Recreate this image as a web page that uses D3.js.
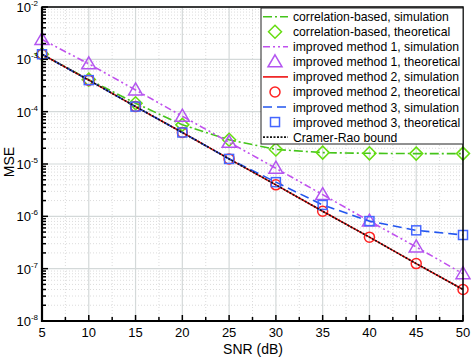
<!DOCTYPE html>
<html>
<head>
<meta charset="utf-8">
<script src="https://cdn.jsdelivr.net/npm/d3@7"></script>
<style>
  body { margin: 0; background: #fff; }
  text { font-family: "Liberation Sans", Arial, sans-serif; }
</style>
</head>
<body>
<div id="chart"></div>
<script>
// data
let snr = [5, 10, 15, 20, 25, 30, 35, 40, 45, 50]
let corrSim = [1.25e-3, 4.1e-4, 1.45e-4, 5.6e-5, 2.9e-5, 1.9e-5, 1.65e-5, 1.6e-5, 1.58e-5, 1.58e-5]
let corrTheo = [1.25e-3, 4.1e-4, 1.45e-4, 5.6e-5, 2.9e-5, 1.9e-5, 1.65e-5, 1.6e-5, 1.58e-5, 1.58e-5]
let imp1Sim = [2.4e-3, 8.2e-4, 2.6e-4, 8.2e-5, 2.6e-5, 8.3e-6, 2.6e-6, 8.1e-7, 2.6e-7, 8e-8]
let imp1Theo = [2.4e-3, 8.2e-4, 2.6e-4, 8.2e-5, 2.6e-5, 8.3e-6, 2.6e-6, 8.1e-7, 2.6e-7, 8e-8]
let imp2Sim = [1.25e-3, 4e-4, 1.25e-4, 4e-5, 1.25e-5, 4e-6, 1.25e-6, 4e-7, 1.25e-7, 4e-8]
let imp2Theo = [1.25e-3, 4e-4, 1.25e-4, 4e-5, 1.25e-5, 4e-6, 1.25e-6, 4e-7, 1.25e-7, 4e-8]
let imp3Sim = [1.25e-3, 4e-4, 1.25e-4, 4e-5, 1.25e-5, 4.5e-6, 1.65e-6, 8.1e-7, 5.4e-7, 4.4e-7]
let imp3Theo = [1.25e-3, 4e-4, 1.25e-4, 4e-5, 1.25e-5, 4.5e-6, 1.65e-6, 8.1e-7, 5.4e-7, 4.4e-7]
let crb = [1.25e-3, 4e-4, 1.25e-4, 4e-5, 1.25e-5, 4e-6, 1.25e-6, 4e-7, 1.25e-7, 4e-8]
let xTicks = [5, 10, 15, 20, 25, 30, 35, 40, 45, 50]
let yExps = [-2, -3, -4, -5, -6, -7, -8]

let width = 471, height = 357
let plot = {left: 42, right: 463, top: 7, bottom: 321}

let svg = d3.select("#chart").append("svg")
    .attr("width", width)
    .attr("height", height)

let x = d3.scaleLinear().domain([5, 50]).range([plot.left, plot.right])
let y = d3.scaleLog().domain([1e-8, 1e-2]).range([plot.bottom, plot.top])

//grid: minor dotted first, then major solid
let minorX = d3.range(5, 50.01, 2.5).filter(v => v % 5 != 0)
let minorY = []
for (let e = -8; e < -2; e++) {
    for (let m = 2; m <= 9; m++) minorY.push(m * Math.pow(10, e))
}
let grid = svg.append("g")
grid.selectAll(".mx").data(minorX).enter().append("line")
    .attr("x1", d => x(d)).attr("x2", d => x(d))
    .attr("y1", plot.top).attr("y2", plot.bottom)
    .attr("stroke", "#dcdcdc").attr("stroke-dasharray", "1,2")
grid.selectAll(".my").data(minorY).enter().append("line")
    .attr("x1", plot.left).attr("x2", plot.right)
    .attr("y1", d => y(d)).attr("y2", d => y(d))
    .attr("stroke", "#dcdcdc").attr("stroke-dasharray", "1,2")
grid.selectAll(".gx").data(xTicks).enter().append("line")
    .attr("x1", d => x(d)).attr("x2", d => x(d))
    .attr("y1", plot.top).attr("y2", plot.bottom)
    .attr("stroke", "#d4d9d9").attr("stroke-width", 1.2)
grid.selectAll(".gy").data(yExps).enter().append("line")
    .attr("x1", plot.left).attr("x2", plot.right)
    .attr("y1", d => y(Math.pow(10, d))).attr("y2", d => y(Math.pow(10, d)))
    .attr("stroke", "#d4d9d9").attr("stroke-width", 1.2)

// series definitions
let series = [
    {name: "correlation-based, simulation", vals: corrSim, color: "#44c41a", dash: "9,3,2,3", width: 1.6},
    {name: "correlation-based, theoretical", vals: corrTheo, color: "#66dd11", marker: "diamond"},
    {name: "improved method 1, simulation", vals: imp1Sim, color: "#c050ee", dash: "7,3,2,3,2,3", width: 1.6},
    {name: "improved method 1, theoretical", vals: imp1Theo, color: "#b355f0", marker: "triangle"},
    {name: "improved method 2, simulation", vals: imp2Sim, color: "#ee1111", dash: null, width: 1.6},
    {name: "improved method 2, theoretical", vals: imp2Theo, color: "#ff2222", marker: "circle"},
    {name: "improved method 3, simulation", vals: imp3Sim, color: "#2255ee", dash: "9,5", width: 1.6},
    {name: "improved method 3, theoretical", vals: imp3Theo, color: "#4466ff", marker: "square"},
    {name: "Cramer-Rao bound", vals: crb, color: "#111111", dash: "2,1.5", width: 1.6}
]

let line = d3.line().x((d, i) => x(snr[i])).y(d => y(d))

function drawMarker(g, type, cx, cy, color) {
    if (type == "diamond") {
        g.append("path").attr("d", `M${cx},${cy - 6.5}L${cx + 6.5},${cy}L${cx},${cy + 6.5}L${cx - 6.5},${cy}Z`)
            .attr("fill", "none").attr("stroke", color).attr("stroke-width", 1.5)
    } else if (type == "triangle") {
        g.append("path").attr("d", `M${cx},${cy - 7}L${cx + 7},${cy + 5}L${cx - 7},${cy + 5}Z`)
            .attr("fill", "none").attr("stroke", color).attr("stroke-width", 1.5)
    } else if (type == "circle") {
        g.append("circle").attr("cx", cx).attr("cy", cy).attr("r", 5)
            .attr("fill", "none").attr("stroke", color).attr("stroke-width", 1.5)
    } else if (type == "square") {
        g.append("rect").attr("x", cx - 4.5).attr("y", cy - 4.5).attr("width", 9).attr("height", 9)
            .attr("fill", "none").attr("stroke", color).attr("stroke-width", 1.5)
    }
}

let marks = svg.append("g")
series.forEach(function(s) {
    if (s.marker) {
        s.vals.forEach((v, i) => drawMarker(marks, s.marker, x(snr[i]), y(v), s.color))
    } else {
        marks.append("path")
            .attr("d", line(s.vals))
            .attr("fill", "none")
            .attr("stroke", s.color)
            .attr("stroke-width", s.width)
            .attr("stroke-dasharray", s.dash)
    }
})

// frame
svg.append("rect")
    .attr("x", plot.left).attr("y", plot.top)
    .attr("width", plot.right - plot.left).attr("height", plot.bottom - plot.top)
    .attr("fill", "none").attr("stroke", "#000").attr("stroke-width", 1.5)
svg.append("line").attr("x1", plot.left).attr("x2", plot.left).attr("y1", plot.top).attr("y2", plot.bottom + 1)
    .attr("stroke", "#000").attr("stroke-width", 2.2)
svg.append("line").attr("x1", plot.left - 1).attr("x2", plot.right).attr("y1", plot.bottom).attr("y2", plot.bottom)
    .attr("stroke", "#000").attr("stroke-width", 2.2)

// ticks (inward)
let ticks = svg.append("g").attr("stroke", "#000").attr("stroke-width", 1.5)
ticks.selectAll(".tx").data(xTicks).enter().append("line")
    .attr("x1", d => x(d)).attr("x2", d => x(d)).attr("y1", plot.bottom).attr("y2", plot.bottom - 6)
ticks.selectAll(".tmx").data(minorX).enter().append("line")
    .attr("x1", d => x(d)).attr("x2", d => x(d)).attr("y1", plot.bottom).attr("y2", plot.bottom - 4)
ticks.selectAll(".ty").data(yExps).enter().append("line")
    .attr("x1", plot.left).attr("x2", plot.left + 6).attr("y1", d => y(Math.pow(10, d))).attr("y2", d => y(Math.pow(10, d)))
ticks.selectAll(".tmy").data(minorY).enter().append("line")
    .attr("x1", plot.left).attr("x2", plot.left + 4).attr("y1", d => y(d)).attr("y2", d => y(d))

// tick labels
svg.append("g").selectAll("text").data(xTicks).enter().append("text")
    .attr("x", d => x(d)).attr("y", plot.bottom + 16)
    .attr("text-anchor", "middle").style("font-size", "13px")
    .text(d => d)

let yl = svg.append("g").selectAll("text").data(yExps).enter().append("text")
    .attr("x", 38).attr("y", d => y(Math.pow(10, d)) + 5)
    .attr("text-anchor", "end").style("font-size", "13px")
yl.append("tspan").text("10")
yl.append("tspan").attr("dy", -6).style("font-size", "8px").text(d => "-" + Math.abs(d))

// axis titles
svg.append("text").attr("x", 253).attr("y", 354)
    .attr("text-anchor", "middle").style("font-size", "14px").text("SNR (dB)")
svg.append("text").attr("transform", `translate(14, 162) rotate(-90)`)
    .attr("text-anchor", "middle").style("font-size", "14px").text("MSE")

// legend
let legend = svg.append("g")
legend.append("rect").attr("x", 261).attr("y", plot.top + 1).attr("width", plot.right - 261).attr("height", 136)
    .attr("fill", "#fff").attr("stroke", "#222").attr("stroke-width", 1)
series.forEach(function(s, i) {
    let ly = 16.7 + i * 15.05
    if (s.marker) {
        drawMarker(legend, s.marker, 275, ly, s.color)
    } else {
        legend.append("line").attr("x1", 263).attr("x2", 288).attr("y1", ly).attr("y2", ly)
            .attr("stroke", s.color).attr("stroke-width", s.width).attr("stroke-dasharray", s.dash)
    }
    legend.append("text").attr("x", 293).attr("y", ly + 4.5)
        .style("font-size", "12.2px").text(s.name)
})
</script>
</body>
</html>
